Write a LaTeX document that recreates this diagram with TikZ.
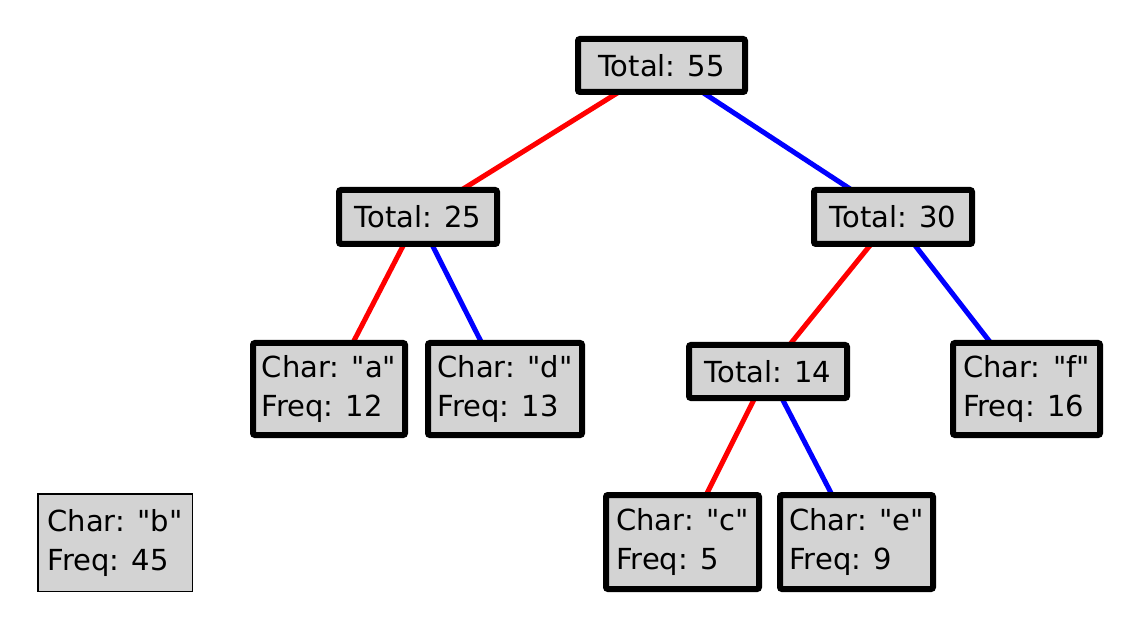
\documentclass[tikz,border=0pt]{standalone}
\usepackage{fontspec}
\setmainfont{DejaVu Sans}[Ligatures=TeXOff]
\usetikzlibrary{backgrounds}
\definecolor{boxgray}{RGB}{211,211,211}
\begin{document}
\begin{tikzpicture}[x=1pt,y=-1pt,
  tnode/.style={draw=black, line width=6pt, fill=boxgray, rounded corners=2pt,
    inner sep=0pt, align=left, font=\fontsize{29}{39}\selectfont,
    minimum width=158pt, minimum height=54pt},
  leaf/.style={tnode, minimum height=92pt},
  loose/.style={draw=black, line width=1.5pt, fill=boxgray, inner sep=0pt,
    align=left, font=\fontsize{29}{39}\selectfont,
    minimum width=154.5pt, minimum height=97.5pt},
  zero/.style={draw=red, line width=5pt},
  one/.style={draw=blue, line width=5pt}]
\useasboundingbox (0,0) rectangle (1138,628);
\node[tnode, minimum width=167pt, minimum height=53pt] (n55) at (661.5,65.5) {Total: 55};
\node[tnode] (n25) at (418,217) {Total: 25};
\node[tnode] (n30) at (893,217) {Total: 30};
\node[leaf, minimum width=152pt] (a) at (329,389) {Char: "a"\\Freq: 12};
\node[leaf, minimum width=154pt] (d) at (505,389) {Char: "d"\\Freq: 13};
\node[tnode, minimum height=53pt] (n14) at (768,371.5) {Total: 14};
\node[leaf, minimum width=147pt] (f) at (1026.5,389) {Char: "f"\\Freq: 16};
\node[leaf, minimum width=153pt, minimum height=94pt] (c) at (682.5,542) {Char: "c"\\Freq: 5\phantom{0}};
\node[leaf, minimum width=153pt, minimum height=94pt] (e) at (856.5,542) {Char: "e"\\Freq: 9\phantom{0}};
\node[loose] (b) at (115,542.5) {Char: "b"\\Freq: 45};
\begin{scope}[on background layer]
  \draw[zero] (n55.center) -- (n25.center);
  \draw[one] (n55.center) -- (n30.center);
  \draw[zero] (n25.center) -- (a.center);
  \draw[one] (n25.center) -- (d.center);
  \draw[zero] (n30.center) -- (n14.center);
  \draw[one] (n30.center) -- (f.center);
  \draw[zero] (n14.center) -- (c.center);
  \draw[one] (n14.center) -- (e.center);
\end{scope}
\end{tikzpicture}
\end{document}
